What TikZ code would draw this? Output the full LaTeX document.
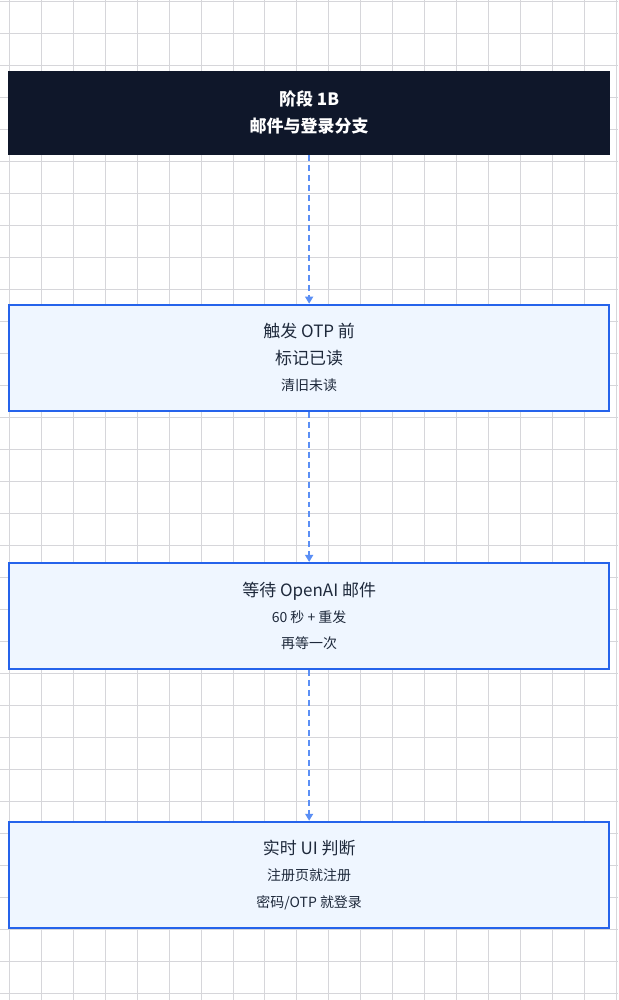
\documentclass[tikz,border=0pt]{standalone}
\usepackage{fontspec}
\setmainfont{Noto Sans CJK SC}
\usetikzlibrary{arrows.meta}
\definecolor{stageink}{HTML}{0F172A}
\definecolor{boxline}{HTML}{2563EB}
\definecolor{boxfill}{HTML}{EFF6FF}
\definecolor{flowline}{HTML}{5B8FF5}
\definecolor{textink}{HTML}{1E293B}
\definecolor{gridink}{HTML}{D6D6DA}
\begin{document}
\begin{tikzpicture}[x=1pt,y=-1pt,
    gridline/.style={gridink,line width=0.8pt},
    stagebox/.style={fill=stageink,text=white,minimum width=603pt,minimum height=84pt,
      align=center,inner sep=0pt,font=\fontsize{17}{27}\selectfont\bfseries},
    stepbox/.style={draw=boxline,line width=2pt,fill=boxfill,text=textink,
      minimum width=601pt,minimum height=106pt,align=center,inner sep=0pt,
      font=\fontsize{17}{26.5}\selectfont},
    flow/.style={flowline,line width=1.4pt,dash pattern=on 6pt off 4pt,
      -{Triangle[length=7pt,width=8pt]}}]
  \fill[white] (0,0) rectangle (618,1000);
  \foreach \gx in {8.7,40.7,...,618} \draw[gridline] (\gx,0) -- (\gx,1000);
  \foreach \gy in {1.3,33.3,...,1000} \draw[gridline] (0,\gy) -- (618,\gy);

  \node[stagebox] (stage) at (309,112.5) {阶段 1B\\邮件与登录分支};
  \node[stepbox] (mark) at (309,357.5) {触发 OTP 前\\标记已读\\{\fontsize{14}{16}\selectfont 清旧未读}};
  \node[stepbox] (wait) at (309,616) {等待 OpenAI 邮件\\{\fontsize{14}{16}\selectfont 60 秒 + 重发}\\{\fontsize{14}{16}\selectfont 再等一次}};
  \node[stepbox] (judge) at (309,875) {实时 UI 判断\\{\fontsize{14}{16}\selectfont 注册页就注册}\\{\fontsize{14}{16}\selectfont 密码/OTP 就登录}};

  \draw[flow] (stage.south) -- (mark.north);
  \draw[flow] (mark.south) -- (wait.north);
  \draw[flow] (wait.south) -- (judge.north);
\end{tikzpicture}
\end{document}
